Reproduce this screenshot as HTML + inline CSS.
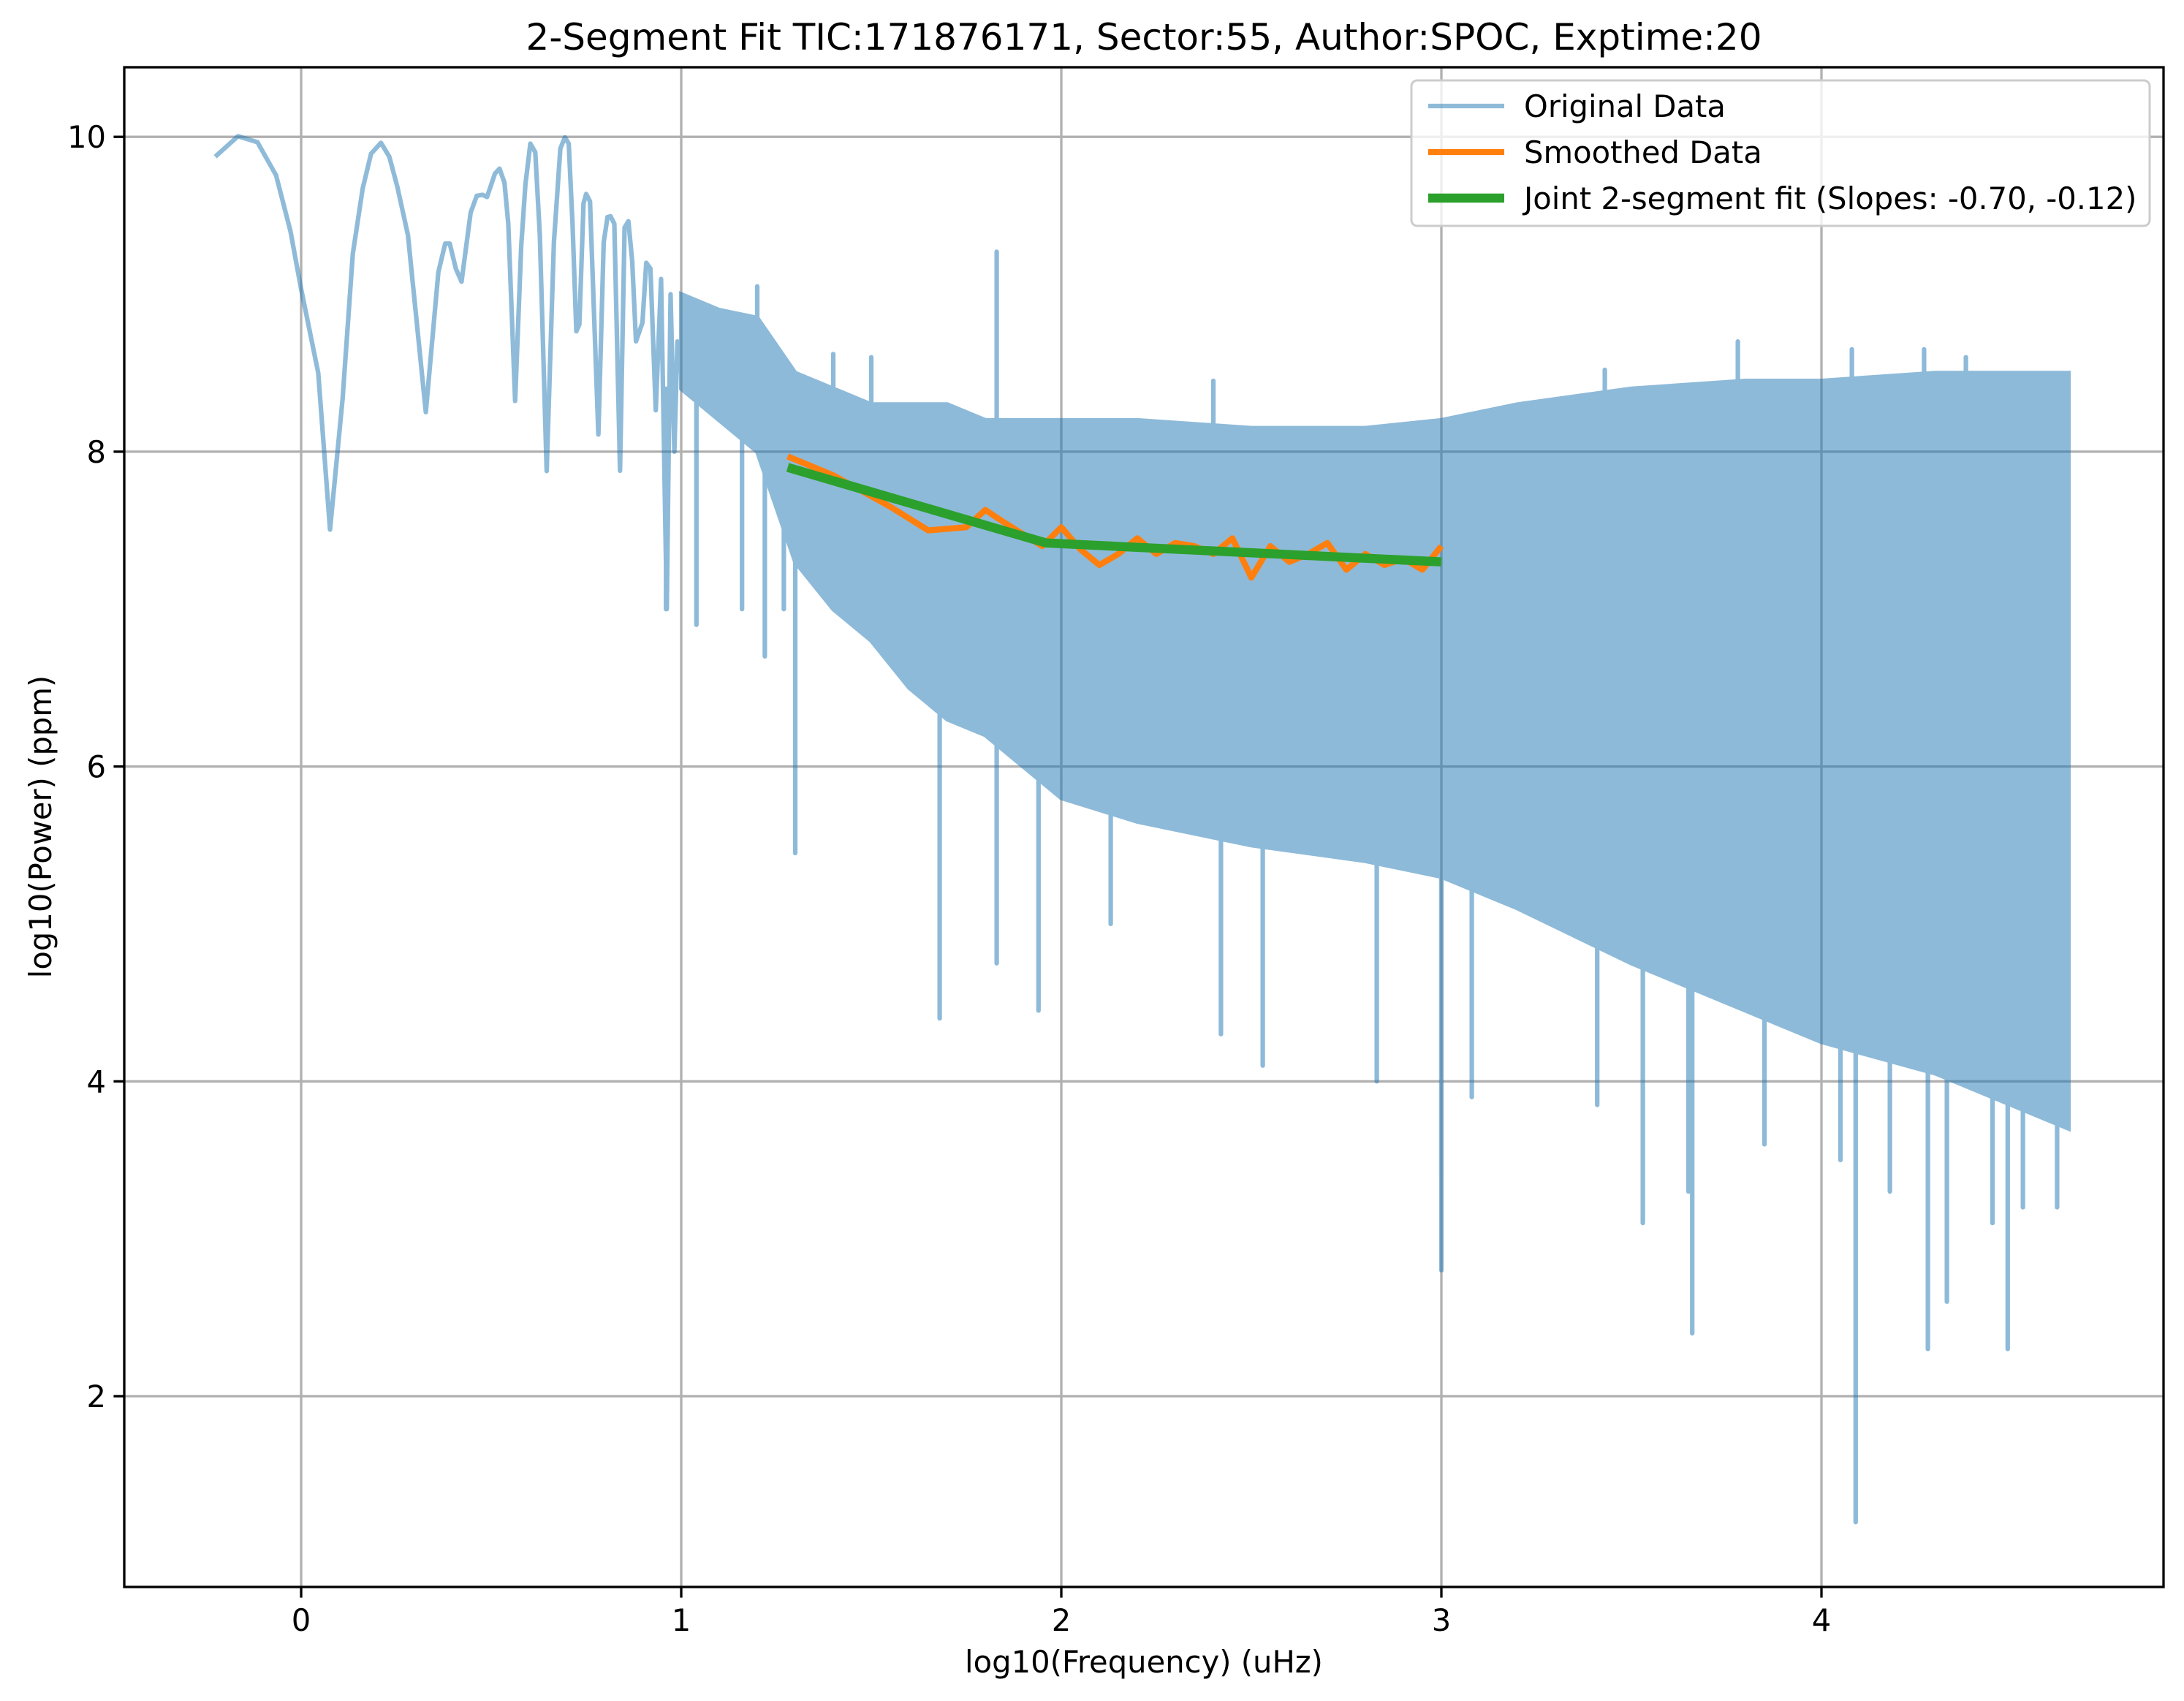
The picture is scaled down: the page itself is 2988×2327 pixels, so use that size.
<!DOCTYPE html>
<html><head><meta charset="utf-8"><style>
html,body{margin:0;padding:0;background:#fff}
svg{display:block}
text{font-family:"DejaVu Sans","Liberation Sans",sans-serif;fill:#000}
</style></head><body>
<svg id="chart" width="2988" height="2327" viewBox="0 0 2988 2327" xmlns="http://www.w3.org/2000/svg">
<rect width="2988" height="2327" fill="#fff"/>
<g id="grid"></g>
<g id="data"></g>
<g id="axes"></g>
<text x="1565" y="68" font-size="50" text-anchor="middle">2-Segment Fit TIC:171876171, Sector:55, Author:SPOC, Exptime:20</text>
<text x="1565" y="2288" font-size="41.7" text-anchor="middle">log10(Frequency) (uHz)</text>
<text transform="translate(70,1131) rotate(-90)" font-size="41.7" text-anchor="middle">log10(Power) (ppm)</text>
<g>
<rect x="1931" y="110" width="1010" height="199" rx="8" fill="#fff" fill-opacity="0.8" stroke="#ccc" stroke-width="3"/>
<line x1="1954" y1="145" x2="2058" y2="145" stroke="#1f77b4" stroke-opacity="0.5" stroke-width="6.25"/>
<text x="2085" y="160" font-size="41.7">Original Data</text>
<line x1="1954" y1="208" x2="2058" y2="208" stroke="#ff7f0e" stroke-width="8.3"/>
<text x="2085" y="223" font-size="41.7">Smoothed Data</text>
<line x1="1954" y1="271" x2="2058" y2="271" stroke="#2ca02c" stroke-width="12.5"/>
<text x="2085" y="286" font-size="41.7">Joint 2-segment fit (Slopes: -0.70, -0.12)</text>
</g>
</svg>
<script>
// ---- data ----
const lowX = [-0.226,-0.166,-0.115,-0.066,-0.028,-0.001,0.045,0.076,0.109,0.136,0.162,0.184,0.210,0.232,0.253,0.281,0.328,0.361,0.379,0.391,0.407,0.422,0.446,0.462,0.477,0.489,0.510,0.522,0.535,0.545,0.563,0.579,0.590,0.603,0.616,0.628,0.646,0.665,0.682,0.694,0.704,0.714,0.724,0.732,0.743,0.750,0.760,0.782,0.796,0.806,0.814,0.824,0.839,0.851,0.861,0.871,0.881,0.898,0.908,0.919,0.933,0.947,0.962,0.972,0.982,0.990,1.000];
const lowY = [9.874,10.004,9.966,9.756,9.40,9.045,8.50,7.505,8.334,9.258,9.673,9.893,9.962,9.874,9.684,9.376,8.251,9.14,9.322,9.322,9.163,9.08,9.519,9.625,9.632,9.618,9.767,9.798,9.708,9.448,8.322,9.305,9.696,9.957,9.902,9.376,7.877,9.329,9.926,9.997,9.957,9.448,8.765,8.808,9.578,9.637,9.59,8.109,9.329,9.49,9.495,9.448,7.879,9.424,9.464,9.211,8.701,8.82,9.2,9.163,8.263,9.097,7.0,9.0,8.0,8.7,8.5];
const bandX = [1.0,1.1,1.2,1.3,1.4,1.5,1.6,1.7,1.8,2.0,2.2,2.5,2.8,3.0,3.2,3.5,3.8,4.0,4.3,4.5,4.65];
const bandHi = [9.0,8.9,8.85,8.5,8.4,8.3,8.3,8.3,8.2,8.2,8.2,8.15,8.15,8.2,8.3,8.4,8.45,8.45,8.5,8.5,8.5];
const bandLo = [8.4,8.2,8.0,7.3,7.0,6.8,6.5,6.3,6.2,5.8,5.65,5.5,5.4,5.3,5.1,4.75,4.45,4.25,4.05,3.85,3.7];
const spikeX = [1.30,1.68,1.83,1.94,2.13,2.42,2.53,2.83,3.0,3.0,3.08,3.41,3.53,3.65,3.66,3.85,4.05,4.09,4.18,4.28,4.33,4.45,4.49,4.53,4.62,1.83,1.2,1.4,1.5,2.4,3.43,3.78,4.08,4.27,4.38,0.96,1.04,1.16,1.22,1.27];
const spikeY = [5.45,4.4,4.75,4.45,5.0,4.3,4.1,4.0,2.8,3.4,3.9,3.85,3.1,3.3,2.4,3.6,3.5,1.2,3.3,2.3,2.6,3.1,2.3,3.2,3.2,9.27,9.05,8.62,8.6,8.45,8.52,8.7,8.65,8.65,8.6,7.0,6.9,7.0,6.7,7.0];
const smoothX = [1.28,1.4,1.55,1.65,1.75,1.8,1.85,1.95,2.0,2.05,2.1,2.15,2.2,2.25,2.3,2.35,2.4,2.45,2.5,2.55,2.6,2.65,2.7,2.75,2.8,2.85,2.9,2.95,3.0];
const smoothY = [7.97,7.85,7.65,7.5,7.52,7.63,7.55,7.4,7.52,7.38,7.28,7.35,7.45,7.35,7.42,7.4,7.35,7.45,7.2,7.4,7.3,7.35,7.42,7.25,7.35,7.28,7.32,7.25,7.4];
const fitX = [1.28,1.96,3.0];
const fitY = [7.9,7.42,7.3];
const xTicks = [0,1,2,3,4];
const yTicks = [2,4,6,8,10];

// ---- axes ----
const L=170,R=2960,T=92,B=2171;
const sx=v=>412+520*v;
const sy=v=>187.2+(10-v)*215.35;
const NS="http://www.w3.org/2000/svg";
function mk(tag,attrs,parent){const e=document.createElementNS(NS,tag);for(const k in attrs)e.setAttribute(k,attrs[k]);parent.appendChild(e);return e;}
const grid=document.getElementById('grid'),axes=document.getElementById('axes'),data=document.getElementById('data');
xTicks.forEach(t=>{
  const g=mk('line',{x1:sx(t),x2:sx(t),y1:T,y2:B,stroke:'#b0b0b0','stroke-width':3.3},grid);
  
  
  const tk=mk('line',{x1:sx(t),x2:sx(t),y1:B,y2:B+14.6,stroke:'#000','stroke-width':3.3},axes);
  
  
  const tx=mk('text',{x:sx(t),y:B+60,'font-size':41.7,'text-anchor':'middle'},axes);
  tx.textContent=t;
  
  
});
yTicks.forEach(t=>{
  const g=mk('line',{x1:L,x2:R,y1:sy(t),y2:sy(t),stroke:'#b0b0b0','stroke-width':3.3},grid);
  
  
  const tk=mk('line',{x1:L-14.6,x2:L,y1:sy(t),y2:sy(t),stroke:'#000','stroke-width':3.3},axes);
  
  
  const tx=mk('text',{x:L-25,y:sy(t)+15,'font-size':41.7,'text-anchor':'end'},axes);
  tx.textContent=t;
  
  
});
const frame=mk('rect',{x:L,y:T,width:R-L,height:B-T,fill:'none',stroke:'#000','stroke-width':3.3},axes);



// ---- series ----
const orig=mk('g',{opacity:0.5},data);


const lowPath=mk('polyline',{points:lowX.map((x,i)=>sx(x)+','+sy(lowY[i])).join(' '),fill:'none',stroke:'#1f77b4','stroke-width':6.25,'stroke-linejoin':'round'},orig);


const bandPts=bandX.map((x,i)=>sx(x)+','+sy(bandHi[i])).concat(bandX.slice().reverse().map((x,i)=>sx(x)+','+sy(bandLo[bandX.length-1-i])));
const band=mk('polygon',{points:bandPts.join(' '),fill:'#1f77b4',stroke:'#1f77b4','stroke-width':6},orig);


spikeX.forEach((x,i)=>{
  const y=spikeY[i];
  let j=0;while(j<bandX.length-2&&bandX[j+1]<x)j++;
  const f=Math.max(0,Math.min(1,(x-bandX[j])/(bandX[j+1]-bandX[j])));
  const hi=bandHi[j]+(bandHi[j+1]-bandHi[j])*f, lo=bandLo[j]+(bandLo[j+1]-bandLo[j])*f;
  const base = y<lo ? lo : hi;
  const s=mk('line',{x1:sx(x),x2:sx(x),y1:sy(base),y2:sy(y),stroke:'#1f77b4','stroke-width':6.25,'stroke-linecap':'round'},orig);
  
  
});
const sm=mk('polyline',{points:smoothX.map((x,i)=>sx(x)+','+sy(smoothY[i])).join(' '),fill:'none',stroke:'#ff7f0e','stroke-width':8.3,'stroke-linejoin':'round'},data);


const fit=mk('polyline',{points:fitX.map((x,i)=>sx(x)+','+sy(fitY[i])).join(' '),fill:'none',stroke:'#2ca02c','stroke-width':12.5,'stroke-linejoin':'round'},data);


</script>
</body></html>
